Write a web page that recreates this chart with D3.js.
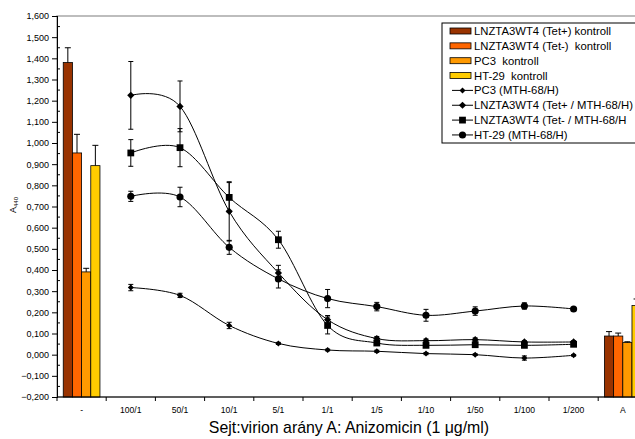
<!DOCTYPE html>
<html>
<head>
<meta charset="utf-8">
<script src="https://cdn.jsdelivr.net/npm/d3@7"></script>
<style>
  body { margin: 0; background: #fff; }
  svg { font-family: "Liberation Sans", Arial, sans-serif; display: block; }
  text { white-space: pre; }
</style>
</head>
<body>
<svg id="chart" width="635" height="439"></svg>
<script>
// categories on the x axis (cell:virion ratio, "-" = no virus, "A" = anisomycin)
const categories = ['-', '100/1', '50/1', '10/1', '5/1', '1/1', '1/5', '1/10', '1/50', '1/100', '1/200', 'A'];
const ratios = categories.slice(1, 11);

// control bars, drawn at "-" and at "A"
const controlNames = ['LNZTA3WT4 (Tet+) kontroll', 'LNZTA3WT4 (Tet-)  kontroll', 'PC3  kontroll', 'HT-29  kontroll'];
const controlColors = ['#993300', '#ff6600', '#ff9900', '#ffcc00'];
const ctrlNoVirus = [1.380, 0.953, 0.391, 0.893];
const ctrlNoVirusErr = [0.070, 0.088, 0.017, 0.096];
const ctrlAniso = [0.088, 0.088, 0.057, 0.232];
const ctrlAnisoErr = [0.021, 0.014, 0.004, 0.031];

// MTH-68/H line series, one value per ratio
const pc3 = [0.317, 0.280, 0.138, 0.053, 0.022, 0.016, 0.005, 0.000, -0.016, -0.003];
const pc3Err = [0.015, 0.010, 0.015, 0.005, 0.004, 0.005, 0.005, 0.004, 0.010, 0.004];
const tetPlus = [1.225, 1.173, 0.677, 0.386, 0.165, 0.076, 0.066, 0.071, 0.060, 0.060];
const tetPlusErr = [0.160, 0.120, 0.140, 0.036, 0.020, 0.010, 0.008, 0.008, 0.006, 0.006];
const tetMinus = [0.953, 0.978, 0.743, 0.543, 0.138, 0.055, 0.044, 0.047, 0.044, 0.049];
const tetMinusErr = [0.063, 0.090, 0.070, 0.040, 0.040, 0.010, 0.010, 0.010, 0.010, 0.010];
const ht29 = [0.748, 0.745, 0.507, 0.358, 0.265, 0.227, 0.186, 0.206, 0.230, 0.216];
const ht29Err = [0.024, 0.046, 0.033, 0.043, 0.043, 0.020, 0.028, 0.020, 0.015, 0.005];

const yTicks = d3.range(-2, 17).map(d => d / 10);

function makeChart() {
    const svg = d3.select('#chart');
    const x0 = 57, band = 49.2; // excel plot area runs off the right edge

    const x = d3.scaleBand().domain(categories).range([x0, x0 + band * categories.length]);
    const y = d3.scaleLinear().domain([-0.2, 1.6]).range([397, 16]);

    // hungarian style decimals: 1,600
    const fmt = d3.formatLocale({ decimal: ',', thousands: '.', grouping: [3], currency: ['', ''] }).format('.3f');

    // plot area border (only the top edge is really visible)
    svg.append('rect')
        .attr('x', x0).attr('y', y(1.6))
        .attr('width', x.range()[1] - x0).attr('height', y(-0.2) - y(1.6))
        .attr('fill', 'none').attr('stroke', '#a8a8a8').attr('stroke-width', 1.5);

    // bars for the controls
    const inner = d3.scaleBand().domain(d3.range(4)).range([0, x.bandwidth()]).paddingOuter(0.68);
    const groups = [
        { cat: '-', vals: ctrlNoVirus, errs: ctrlNoVirusErr },
        { cat: 'A', vals: ctrlAniso, errs: ctrlAnisoErr }
    ];
    groups.forEach(g => {
        const gg = svg.append('g').attr('transform', `translate(${x(g.cat)},0)`);
        gg.selectAll('rect')
            .data(g.vals)
            .enter()
            .append('rect')
            .attr('x', (d, i) => inner(i))
            .attr('width', inner.bandwidth())
            .attr('y', d => y(d))
            .attr('height', d => y(-0.2) - y(d))
            .attr('fill', (d, i) => controlColors[i])
            .attr('stroke', '#000').attr('stroke-width', 0.8);
        // plus-only error bars
        gg.selectAll('path.err')
            .data(g.vals)
            .enter()
            .append('path')
            .attr('class', 'err')
            .attr('fill', 'none').attr('stroke', '#000').attr('stroke-width', 1)
            .attr('d', (d, i) => {
                const cx = inner(i) + inner.bandwidth() / 2;
                const top = y(d + g.errs[i]);
                return `M${cx},${y(d)}V${top}M${cx - 3},${top}H${cx + 3}`;
            });
    });

    // y axis
    const yAxis = svg.append('g')
        .attr('transform', `translate(${x0},0)`)
        .call(d3.axisLeft(y).tickValues(yTicks).tickFormat(fmt).tickSizeInner(5).tickSizeOuter(0).tickPadding(3));
    yAxis.select('.domain').attr('stroke', '#000');
    yAxis.selectAll('text').attr('font-size', 9).attr('font-family', null).attr('fill', '#000');
    yAxis.selectAll('.tick line').attr('x2', -5).attr('x1', 1);
    // minor ticks inside
    svg.append('g').selectAll('line')
        .data(d3.range(-3, 32, 2).map(d => d / 20))
        .enter()
        .append('line')
        .attr('x1', x0).attr('x2', x0 + 3)
        .attr('y1', d => y(d)).attr('y2', d => y(d))
        .attr('stroke', '#000');

    // x axis: line + ticks on the category borders + labels in the middle
    const xa = svg.append('g');
    xa.append('line')
        .attr('x1', x0).attr('x2', x.range()[1])
        .attr('y1', y(-0.2)).attr('y2', y(-0.2))
        .attr('stroke', '#000').attr('stroke-width', 1.2);
    xa.selectAll('line.tk')
        .data(categories)
        .enter()
        .append('line')
        .attr('class', 'tk')
        .attr('x1', d => x(d)).attr('x2', d => x(d))
        .attr('y1', y(-0.2)).attr('y2', y(-0.2) + 4)
        .attr('stroke', '#000');
    xa.selectAll('text')
        .data(categories)
        .enter()
        .append('text')
        .attr('x', d => x(d) + x.bandwidth() / 2)
        .attr('y', y(-0.2) + 16)
        .attr('text-anchor', 'middle')
        .attr('font-size', 8.6)
        .text(d => d);

    // line series
    const series = [
        { vals: pc3, errs: pc3Err, marker: 'diamond', size: 18 },
        { vals: tetPlus, errs: tetPlusErr, marker: 'diamond', size: 26 },
        { vals: tetMinus, errs: tetMinusErr, marker: 'square', size: 46 },
        { vals: ht29, errs: ht29Err, marker: 'circle', size: 40 }
    ];
    const cx = c => x(c) + x.bandwidth() / 2;
    const lineMaker = d3.line()
        .x((d, i) => cx(ratios[i]))
        .y(d => y(d))
        .curve(d3.curveCardinal.tension(0));

    const symbolPath = (m, size) => {
        if (m === 'circle') return d3.symbol(d3.symbolCircle, size)();
        return d3.symbol(d3.symbolSquare, size)();
    };

    series.forEach(s => {
        const g = svg.append('g');
        g.append('path')
            .attr('fill', 'none').attr('stroke', '#000').attr('stroke-width', 1)
            .attr('d', lineMaker(s.vals));
        // error bars
        g.selectAll('path.err')
            .data(s.vals)
            .enter()
            .append('path')
            .attr('class', 'err')
            .attr('fill', 'none').attr('stroke', '#000').attr('stroke-width', 1)
            .attr('d', (d, i) => {
                const px = cx(ratios[i]);
                const t = y(d + s.errs[i]), b = y(d - s.errs[i]);
                return `M${px},${t}V${b}M${px - 2.5},${t}H${px + 2.5}M${px - 2.5},${b}H${px + 2.5}`;
            });
        g.selectAll('path.mk')
            .data(s.vals)
            .enter()
            .append('path')
            .attr('class', 'mk')
            .attr('fill', '#000')
            .attr('transform', (d, i) => `translate(${cx(ratios[i])},${y(d)})` + (s.marker === 'diamond' ? ' rotate(45)' : ''))
            .attr('d', symbolPath(s.marker, s.size));
    });

    // axis titles
    svg.append('text')
        .attr('x', 349)
        .attr('y', 433)
        .attr('text-anchor', 'middle')
        .attr('font-size', 15.9)
        .text('Sejt:virion arány A: Anizomicin (1 \u03bcg/ml)');

    const yl = svg.append('text')
        .attr('transform', 'translate(16,205) rotate(-90)')
        .attr('text-anchor', 'middle')
        .attr('font-size', 9);
    yl.append('tspan').text('A');
    yl.append('tspan').attr('font-size', 6).attr('dy', 2).text('440');

    // legend
    const lg = svg.append('g');
    lg.append('rect')
        .attr('x', 442).attr('y', 23).attr('width', 220).attr('height', 120)
        .attr('fill', '#fff').attr('stroke', '#000');
    const ly = i => 31 + i * 14.85;
    const lineNames = ['PC3 (MTH-68/H)', 'LNZTA3WT4 (Tet+ / MTH-68/H)', 'LNZTA3WT4 (Tet- / MTH-68/H', 'HT-29 (MTH-68/H)'];
    controlNames.forEach((n, i) => {
        lg.append('rect')
            .attr('x', 450).attr('y', ly(i) - 3).attr('width', 21).attr('height', 6)
            .attr('fill', controlColors[i]).attr('stroke', '#000').attr('stroke-width', 0.8);
    });
    series.forEach((s, i) => {
        const yy = ly(i + 4);
        lg.append('line').attr('x1', 452).attr('x2', 473).attr('y1', yy).attr('y2', yy).attr('stroke', '#000');
        lg.append('path')
            .attr('transform', `translate(462.5,${yy})` + (s.marker === 'diamond' ? ' rotate(45)' : ''))
            .attr('d', symbolPath(s.marker, s.size));
    });
    lg.selectAll('text')
        .data(controlNames.concat(lineNames))
        .enter()
        .append('text')
        .attr('x', 474)
        .attr('y', (d, i) => ly(i))
        .attr('dy', '0.36em')
        .attr('font-size', 11.3)
        .text(d => d);
}

makeChart();
</script>
</body>
</html>
